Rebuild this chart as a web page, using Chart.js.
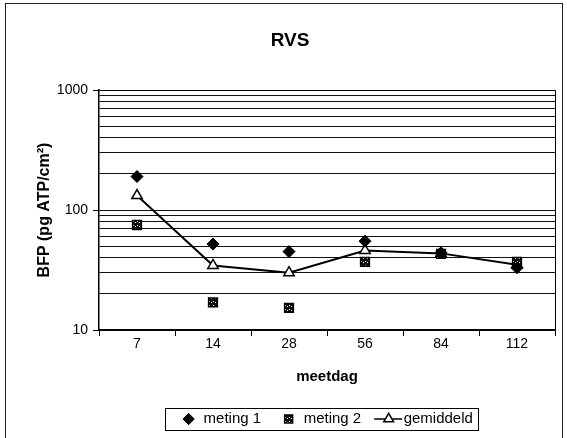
<!DOCTYPE html>
<html>
<head>
<meta charset="utf-8">
<script src="https://cdn.jsdelivr.net/npm/chart.js@4.4.0/dist/chart.umd.min.js"></script>
<style>
  html, body { margin: 0; padding: 0; background: #fff; }
  #wrap { width: 567px; height: 438px; position: relative; }
</style>
</head>
<body>
<div id="wrap"><canvas id="c" width="567" height="438"></canvas></div>
<script>
// Measurement days (category axis)
const days = ['7', '14', '28', '56', '84', '112'];
// BFP values in pg ATP/cm²
const meting1 = [190, 52, 45, 55, 44, 33];
const meting2 = [75, 17, 15.3, 37, 43, 37];
const gemiddeld = [132, 34.5, 30, 46, 43.5, 35];
// Log-axis gridline positions and the ones that carry a label
const yTicks = [10, 20, 30, 40, 50, 60, 70, 80, 90, 100, 200, 300, 400, 500, 600, 700, 800, 900, 1000];
const yLabelled = [10, 100, 1000];

const FONT = "'Liberation Sans', Arial, Helvetica, sans-serif";
Chart.defaults.font.family = FONT;
Chart.defaults.color = '#000';

// Small speckled fill for the "meting 2" squares
function speckle() {
  const c = document.createElement('canvas');
  c.width = 4; c.height = 4;
  const g = c.getContext('2d');
  g.fillStyle = '#111111';
  g.fillRect(0, 0, 4, 4);
  g.fillStyle = '#ffffff';
  g.fillRect(1, 1, 1, 1);
  g.fillRect(3, 2, 1, 1);
  return g.createPattern(c, 'repeat');
}
const speckFill = speckle();
const LEGEND_BOX = 15;

// Page frame, plot box and the framed legend with a line through the average marker
const framePlugin = {
  id: 'framePlugin',
  beforeDraw(chart) {
    const ctx = chart.ctx;
    ctx.save();
    ctx.fillStyle = '#fff';
    ctx.fillRect(0, 0, chart.width, chart.height);
    ctx.strokeStyle = '#222';
    ctx.lineWidth = 1;
    ctx.strokeRect(5.5, 3.5, 557, 440);

    const lg = chart.legend;
    if (lg && lg.legendHitBoxes && lg.legendHitBoxes.length) {
      const hb = lg.legendHitBoxes;
      const first = hb[0], last = hb[hb.length - 1];
      const cy = first.top + first.height / 2;
      const x0 = Math.round(first.left - 16);
      const x1 = Math.round(last.left + last.width + 5);
      ctx.strokeStyle = '#000';
      ctx.lineWidth = 1;
      ctx.strokeRect(x0 + 0.5, Math.round(cy - 11) + 0.5, x1 - x0, 22);
      // line segment for the "gemiddeld" entry
      ctx.beginPath();
      ctx.lineWidth = 1.5;
      ctx.moveTo(last.left - 7, cy);
      ctx.lineTo(last.left + LEGEND_BOX + 6, cy);
      ctx.stroke();
    }
    ctx.restore();
  },
  afterDraw(chart) {
    const a = chart.chartArea;
    const ctx = chart.ctx;
    ctx.save();
    ctx.strokeStyle = '#000';
    ctx.lineWidth = 1;
    ctx.beginPath();
    ctx.moveTo(Math.round(a.left) + 0.5, Math.round(a.top) + 0.5);
    ctx.lineTo(Math.round(a.right) + 0.5, Math.round(a.top) + 0.5);
    ctx.lineTo(Math.round(a.right) + 0.5, Math.round(a.bottom) + 0.5);
    ctx.stroke();
    ctx.restore();
  }
};

new Chart(document.getElementById('c'), {
  type: 'line',
  data: {
    labels: days,
    datasets: [
      {
        label: 'meting 1',
        data: meting1,
        showLine: false,
        pointStyle: 'rectRot',
        pointRadius: 6,
        pointBackgroundColor: '#000',
        pointBorderColor: '#000',
        pointBorderWidth: 1,
        backgroundColor: '#000',
        borderColor: '#000'
      },
      {
        label: 'meting 2',
        data: meting2,
        showLine: false,
        pointStyle: 'rect',
        pointRadius: 6.2,
        pointBackgroundColor: speckFill,
        pointBorderColor: '#000',
        pointBorderWidth: 1.5,
        backgroundColor: speckFill,
        borderColor: '#000'
      },
      {
        label: 'gemiddeld',
        data: gemiddeld,
        showLine: true,
        borderColor: '#000',
        borderWidth: 2,
        backgroundColor: '#fff',
        pointStyle: 'triangle',
        pointRadius: 6,
        pointBackgroundColor: '#fff',
        pointBorderColor: '#000',
        pointBorderWidth: 1.5,
        tension: 0
      }
    ]
  },
  options: {
    responsive: false,
    animation: false,
    devicePixelRatio: 1,
    layout: { padding: { left: 25, right: 12, top: 0, bottom: 1.5 } },
    plugins: {
      title: {
        display: true,
        text: 'RVS',
        color: '#000',
        font: { size: 19, weight: 'bold', family: FONT },
        padding: { top: 29, bottom: 38.2 }
      },
      legend: {
        display: true,
        position: 'bottom',
        fullSize: false,
        labels: {
          usePointStyle: true,
          boxWidth: LEGEND_BOX,
          boxHeight: 8,
          padding: 20,
          color: '#000',
          font: { size: 15, family: FONT }
        }
      },
      tooltip: { enabled: false }
    },
    scales: {
      x: {
        type: 'category',
        offset: true,
        grid: {
          display: true,
          drawOnChartArea: false,
          drawTicks: true,
          tickLength: 6,
          offset: true,
          color: '#000'
        },
        border: { color: '#000', width: 1.5 },
        ticks: { color: '#000', font: { size: 14, family: FONT }, padding: 0 },
        title: {
          display: true,
          text: 'meetdag',
          color: '#000',
          font: { size: 15, weight: 'bold', family: FONT },
          padding: { top: 0, bottom: 5.5 }
        },
        afterFit(s) { s.height = 61.5; }
      },
      y: {
        type: 'logarithmic',
        min: 10,
        max: 1000,
        afterBuildTicks(s) {
          s.ticks = yTicks.map(v => ({ value: v, major: yLabelled.includes(v) }));
        },
        ticks: {
          autoSkip: false,
          color: '#000',
          font: { size: 14, family: FONT },
          padding: 5,
          callback: v => (yLabelled.includes(v) ? String(v) : '')
        },
        grid: {
          color: '#111',
          lineWidth: 1,
          tickLength: 6,
          tickColor: ctx => (ctx.tick && yLabelled.includes(ctx.tick.value) ? '#000' : 'rgba(0,0,0,0)')
        },
        border: { color: '#000', width: 1.5 },
        title: {
          display: true,
          text: 'BFP (pg ATP/cm²)',
          color: '#000',
          font: { size: 16, weight: 'bold', family: FONT },
          padding: { top: 10, bottom: 0 }
        },
        afterFit(s) { s.width = 74; }
      }
    }
  },
  plugins: [framePlugin]
});
</script>
</body>
</html>
